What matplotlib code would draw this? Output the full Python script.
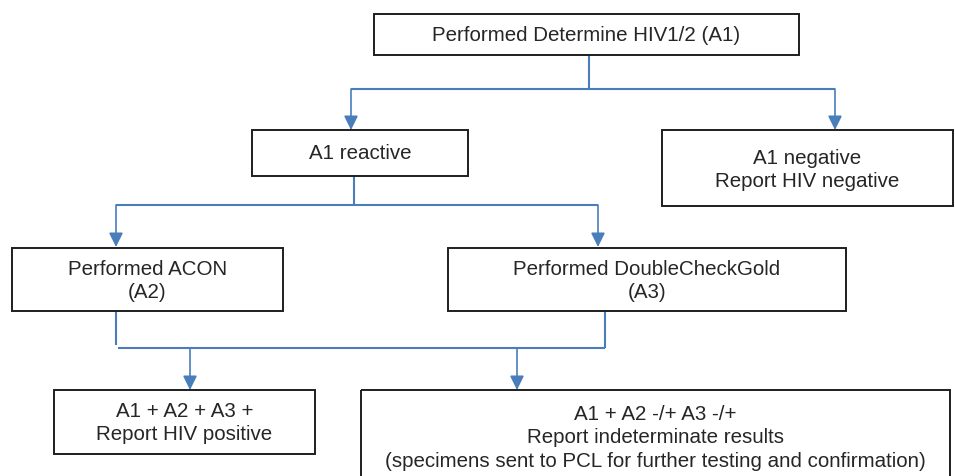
import matplotlib
matplotlib.use("Agg")
import matplotlib.pyplot as plt
from matplotlib.patches import Rectangle

W, H = 955, 477
BLUE = "#4a7ebb"
EDGE = "#1e1e1e"
TXT = "#262626"
FONT = "Liberation Sans"
FS = 14.8

# Boxes: (x0, y0, x1, y1) in pixel space, text
box_names = ["A1", "react", "neg", "A2", "A3", "pos", "ind"]
box_rects = [
    (374, 15, 799, 56),
    (252, 131, 468, 177),
    (662, 131, 953, 207),
    (12, 249, 283, 312),
    (448, 249, 846, 312),
    (54, 391, 315, 455),
    (361, 391, 950, 495),
]
box_texts = [
    "Performed Determine HIV1/2 (A1)",
    "A1 reactive",
    "A1 negative\nReport HIV negative",
    "Performed ACON\n(A2)",
    "Performed DoubleCheckGold\n(A3)",
    "A1 + A2 + A3 +\nReport HIV positive",
    "A1 + A2 -/+ A3 -/+\nReport indeterminate results\n(specimens sent to PCL for further testing and confirmation)",
]
text_centers_y = [35.5, 154, 170, 281, 281, 423, 438]

# Connector lines (polylines without arrowheads)
connectors = [
    [(589, 56), (589, 90)],
    [(351, 90), (835, 90)],
    [(354, 177), (354, 206)],
    [(116, 206), (598, 206)],
    [(116, 312), (116, 346)],
    [(605, 312), (605, 349)],
    [(118, 349), (605, 349)],
]
# Arrows (start, end)
arrows = [
    ((351, 90), (351, 131)),
    ((835, 90), (835, 131)),
    ((116, 206), (116, 248)),
    ((598, 206), (598, 248)),
    ((190, 349), (190, 391)),
    ((517, 349), (517, 391)),
]

fig = plt.figure(figsize=(W / 100, H / 100), dpi=100)
ax = fig.add_axes([0, 0, 1, 1])
ax.set_xlim(0, W)
ax.set_ylim(H, 0)
ax.axis("off")

for (x0, y0, x1, y1), t, cy in zip(box_rects, box_texts, text_centers_y):
    ax.add_patch(Rectangle((x0, y0), x1 - x0, y1 - y0, fill=False,
                           edgecolor=EDGE, linewidth=1.4, zorder=2))
    ax.text((x0 + x1) / 2, cy, t, ha="center", va="center", color=TXT,
            fontsize=FS, family=FONT, linespacing=1.28, zorder=3)

for seg in connectors:
    xs = [p[0] for p in seg]
    ys = [p[1] for p in seg]
    ax.plot(xs, ys, color=BLUE, linewidth=1.5, solid_capstyle="butt", zorder=1)

for (s, e) in arrows:
    ax.annotate("", xy=e, xytext=s,
                arrowprops=dict(arrowstyle="-|>,head_length=0.85,head_width=0.42",
                                mutation_scale=10, color=BLUE, lw=1.2,
                                shrinkA=0, shrinkB=0), zorder=1)

fig.savefig("out.png", dpi=100, facecolor="white")
